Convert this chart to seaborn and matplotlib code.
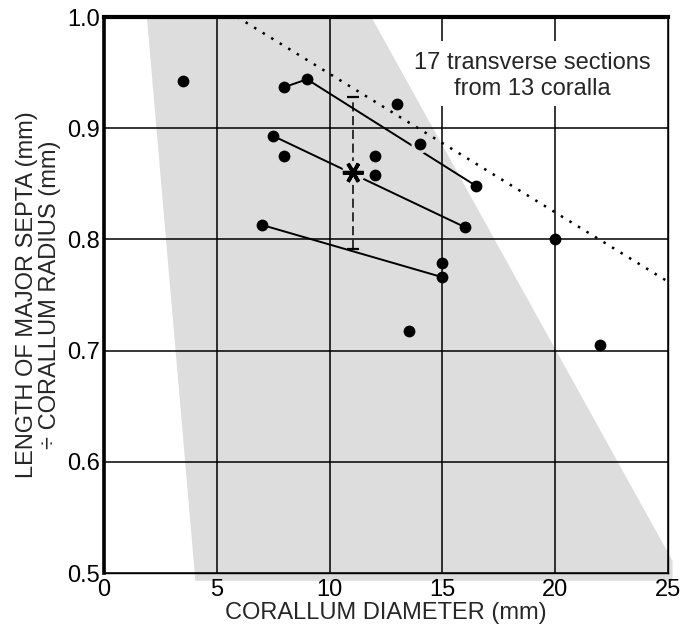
import matplotlib
matplotlib.use("Agg")
import matplotlib.pyplot as plt
import matplotlib.patheffects as pe
from matplotlib.patches import Polygon, Rectangle
import seaborn as sns
import pandas as pd

# ---- data ----
x_pts = [3.5, 8.0, 9.0, 13.0, 14.0, 16.5, 7.5, 8.0, 12.0, 12.0, 16.0, 7.0, 15.0, 15.0, 20.0, 13.5, 22.0]
y_pts = [0.942, 0.937, 0.944, 0.922, 0.886, 0.848, 0.893, 0.875, 0.875, 0.858, 0.811, 0.813, 0.779, 0.766, 0.800, 0.718, 0.705]
# sections whose marker interrupts a crossing line
halo_idx = [4]

# connected sections of the same corallum
line_group = ["A", "A", "A", "B", "B", "C", "C"]
line_x = [8.0, 9.0, 16.5, 7.5, 16.0, 7.0, 15.0]
line_y = [0.937, 0.944, 0.848, 0.893, 0.811, 0.813, 0.766]

# mean (asterisk) with range
mean_x = [11.05]
mean_y = [0.860]
range_lo = [0.791]
range_hi = [0.928]

# dotted trend line
trend_x = [5.9, 25.0]
trend_y = [1.0, 0.762]

# shaded field
field_x = [1.9, 11.85, 25.2, 25.2, 4.05]
field_y = [1.0, 1.0, 0.511, 0.493, 0.493]

x_ticks = [0, 5, 10, 15, 20, 25]
y_ticks = [0.5, 0.6, 0.7, 0.8, 0.9, 1.0]
x_label = "CORALLUM DIAMETER (mm)"
y_label = "LENGTH OF MAJOR SEPTA (mm)\n\u00f7 CORALLUM RADIUS (mm)"
note = "17 transverse sections\nfrom 13 coralla"

GRAY = "#dddddd"

# ---- style ----
sns.set_style("white")
plt.rcParams["font.family"] = ["Liberation Sans", "DejaVu Sans"]

fig = plt.figure(figsize=(6.84, 6.33), dpi=100)
ax = fig.add_axes([104 / 684, 1 - 573 / 633, (668 - 104) / 684, (573 - 17) / 633])

ax.set_xlim(0, 25)
ax.set_ylim(0.5, 1.0)

# shaded field
field_xy = list(zip(field_x, field_y))
ax.add_patch(Polygon(field_xy, closed=True, facecolor=GRAY, edgecolor="none",
                     zorder=0.5, clip_on=False))

# grid
ax.set_xticks(x_ticks)
ax.set_yticks(y_ticks)
ax.set_xticklabels([str(t) for t in x_ticks])
ax.set_yticklabels([f"{t:.1f}" for t in y_ticks])
ax.grid(True, color="black", linewidth=1.1)
ax.set_axisbelow(False)

# white panel behind the note (interrupts grid lines), field shows through
panel = Rectangle((13.5, 0.920), 11.0, 0.058, facecolor="white",
                  edgecolor="none", zorder=2.6)
ax.add_patch(panel)
field_top = Polygon(field_xy, closed=True, facecolor=GRAY, edgecolor="none",
                    zorder=2.65)
ax.add_patch(field_top)
field_top.set_clip_path(panel)

# dotted trend
sns.lineplot(x=trend_x, y=trend_y, ax=ax, color="black", linewidth=1.8,
             linestyle=(0, (1, 3)), zorder=2.7)

# connecting lines
df_lines = pd.DataFrame({"x": line_x, "y": line_y, "g": line_group})
sns.lineplot(data=df_lines, x="x", y="y", units="g", estimator=None, sort=False,
             ax=ax, color="black", linewidth=1.4, zorder=3)

# halo under markers that cut a line
df_pts = pd.DataFrame({"x": x_pts, "y": y_pts})
sns.scatterplot(data=df_pts.iloc[halo_idx], x="x", y="y", ax=ax, color=GRAY,
                s=170, linewidth=0, zorder=3.5)

# points
sns.scatterplot(data=df_pts, x="x", y="y", ax=ax, color="black", s=72,
                linewidth=0, zorder=4)

# range bar
eb = ax.errorbar(mean_x, mean_y,
                 yerr=[[m - lo for m, lo in zip(mean_y, range_lo)],
                       [hi - m for m, hi in zip(mean_y, range_hi)]],
                 fmt="none", ecolor="black", elinewidth=1.1, capsize=4,
                 capthick=1.6, zorder=3.2)
eb[2][0].set_linestyle((0, (6, 3)))

# asterisk
ax.plot(mean_x, mean_y, linestyle="none", marker=(6, 2, 30), markersize=15,
        markeredgewidth=2.6, color="black", zorder=5,
        path_effects=[pe.withStroke(linewidth=8, foreground=GRAY)])

# note
ax.text(19.0, 0.947, note, ha="center", va="center", fontsize=17,
        linespacing=1.25, zorder=6)

# spines
for side, lw in (("top", 3.0), ("left", 2.6), ("right", 1.0), ("bottom", 1.0)):
    ax.spines[side].set_visible(True)
    ax.spines[side].set_linewidth(lw)
    ax.spines[side].set_color("black")
    ax.spines[side].set_zorder(7)

ax.tick_params(axis="both", length=0, labelsize=17, colors="black")
ax.tick_params(axis="y", pad=3)
ax.tick_params(axis="x", pad=4)

ax.set_xlabel(x_label, fontsize=17, labelpad=1)
ax.set_ylabel(y_label, fontsize=17, labelpad=4, linespacing=1.1)

fig.savefig("out.png", dpi=100)
